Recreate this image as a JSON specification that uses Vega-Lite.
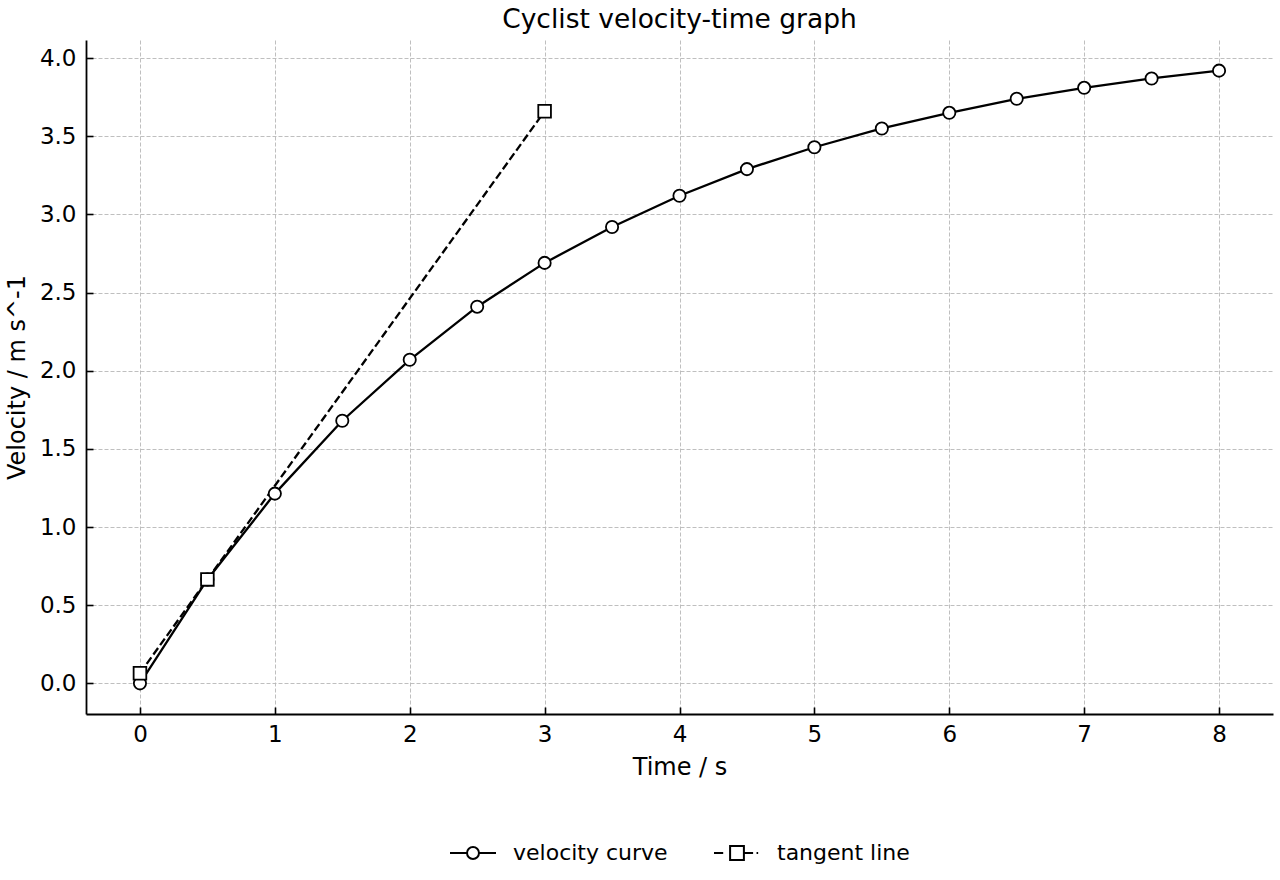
{
  "$schema": "https://vega.github.io/schema/vega-lite/v6.json",
  "width": 1187,
  "height": 674,
  "autosize": {"type": "none"},
  "padding": {"left": 86, "top": 40, "right": 7, "bottom": 166},
  "background": "white",
  "title": {"text": "Cyclist velocity-time graph", "fontSize": 26.5, "fontWeight": "normal", "font": "DejaVu Sans", "color": "black", "offset": 7},
  "config": {
    "font": "DejaVu Sans",
    "view": {"stroke": null},
    "legend": {"layout": {"bottom": {"anchor": "middle"}}},
    "axis": {
      "domainColor": "black", "domainWidth": 1.8,
      "tickColor": "black", "tickWidth": 1.6, "tickSize": -7,
      "labelFontSize": 23, "labelColor": "black", "labelFont": "DejaVu Sans",
      "titleFontSize": 24, "titleFontWeight": "normal", "titleColor": "black", "titleFont": "DejaVu Sans",
      "grid": true, "gridColor": "#b8b8b8", "gridDash": [4, 2], "gridWidth": 0.9
    }
  },
  "data": {"values": [
    {"series": "velocity curve", "t": 0, "v": 0},
    {"series": "velocity curve", "t": 0.5, "v": 0.665},
    {"series": "velocity curve", "t": 1, "v": 1.214},
    {"series": "velocity curve", "t": 1.5, "v": 1.68},
    {"series": "velocity curve", "t": 2, "v": 2.07},
    {"series": "velocity curve", "t": 2.5, "v": 2.41},
    {"series": "velocity curve", "t": 3, "v": 2.69},
    {"series": "velocity curve", "t": 3.5, "v": 2.92},
    {"series": "velocity curve", "t": 4, "v": 3.12},
    {"series": "velocity curve", "t": 4.5, "v": 3.29},
    {"series": "velocity curve", "t": 5, "v": 3.43},
    {"series": "velocity curve", "t": 5.5, "v": 3.55},
    {"series": "velocity curve", "t": 6, "v": 3.65},
    {"series": "velocity curve", "t": 6.5, "v": 3.74},
    {"series": "velocity curve", "t": 7, "v": 3.81},
    {"series": "velocity curve", "t": 7.5, "v": 3.87},
    {"series": "velocity curve", "t": 8, "v": 3.92},
    {"series": "tangent line", "t": 0, "v": 0.065},
    {"series": "tangent line", "t": 0.5, "v": 0.665},
    {"series": "tangent line", "t": 3, "v": 3.66}
  ]},
  "encoding": {
    "x": {"field": "t", "type": "quantitative", "title": "Time / s",
      "scale": {"domain": [-0.4, 8.4], "nice": false, "zero": false},
      "axis": {"values": [0,1,2,3,4,5,6,7,8], "labelPadding": 16, "titlePadding": 9}},
    "y": {"field": "v", "type": "quantitative", "title": "Velocity / m s^-1",
      "scale": {"domain": [-0.196, 4.116], "nice": false, "zero": false},
      "axis": {"values": [0,0.5,1,1.5,2,2.5,3,3.5,4], "format": ".1f", "labelPadding": 17, "titlePadding": 10}}
  },
  "layer": [
    {
      "transform": [{"filter": "datum.series === 'velocity curve'"}],
      "mark": {"type": "line", "color": "black", "strokeWidth": 2.3},
      "encoding": {}
    },
    {
      "transform": [{"filter": "datum.series === 'tangent line'"}],
      "mark": {"type": "line", "color": "black", "strokeWidth": 2.3, "strokeDash": [8, 3.5]},
      "encoding": {}
    },
    {
      "transform": [{"filter": "datum.series === 'velocity curve'"}],
      "mark": {"type": "point", "shape": "circle", "filled": true, "fill": "white", "stroke": "black", "strokeWidth": 1.8, "size": 150, "opacity": 1},
      "encoding": {}
    },
    {
      "transform": [{"filter": "datum.series === 'tangent line'"}],
      "mark": {"type": "point", "shape": "square", "filled": true, "fill": "white", "stroke": "black", "strokeWidth": 1.8, "size": 160, "opacity": 1},
      "encoding": {}
    },
    {
      "mark": {"type": "point", "filled": false, "color": "black", "strokeWidth": 2, "size": 10, "opacity": 0},
      "encoding": {
        "shape": {"field": "series", "type": "nominal",
          "scale": {"domain": ["velocity curve", "tangent line"],
            "range": ["M-1,0L-0.26,0M0.26,0L1,0M0.26,0A0.26,0.26 0 1 1 -0.26,0A0.26,0.26 0 1 1 0.26,0", "M-1,0L-0.6,0M0.3,0L0.7,0M0.85,0L0.92,0M-0.3,-0.3L0.3,-0.3L0.3,0.3L-0.3,0.3Z"]},
          "legend": {
            "title": null, "orient": "bottom", "direction": "horizontal", "offset": 50,
            "labelFontSize": 22, "labelColor": "black", "labelFont": "DejaVu Sans",
            "symbolSize": 2116, "symbolStrokeWidth": 2, "symbolStrokeColor": "black", "symbolOpacity": 1,
            "labelOffset": 16, "columnPadding": 42
          }
        }
      }
    }
  ]
}
